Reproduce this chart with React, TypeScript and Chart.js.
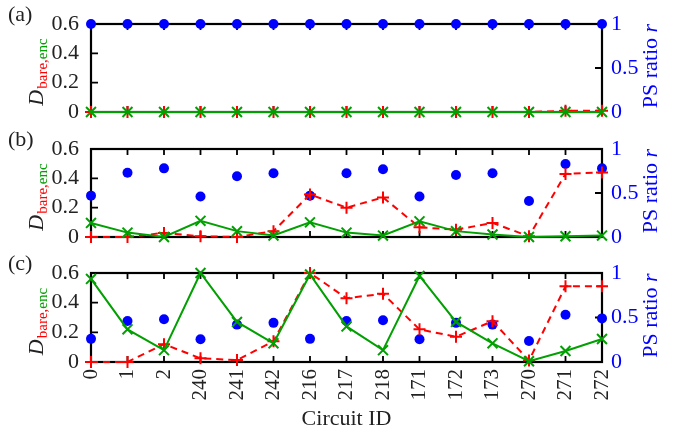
import React, { useEffect, useRef } from "react";
import { Chart, registerables } from "chart.js";
Chart.register(...registerables);

const circuitIds = ["0", "1", "2", "240", "241", "242", "216", "217", "218", "171", "172", "173", "270", "271", "272"];

const bareA = [0, 0, 0, 0, 0, 0, 0, 0, 0, 0, 0, 0, 0, 0.008, 0.008];
const encA = [0, 0, 0, 0, 0, 0, 0, 0, 0, 0, 0, 0, 0, 0, 0];
const ratioA = [1, 1, 1, 1, 1, 1, 1, 1, 1, 1, 1, 1, 1, 1, 1];

const bareB = [0, 0, 0.028, 0.005, 0, 0.04, 0.29, 0.2, 0.27, 0.066, 0.05, 0.096, 0.005, 0.43, 0.44];
const encB = [0.096, 0.03, 0.0, 0.11, 0.04, 0.01, 0.1, 0.03, 0.01, 0.107, 0.04, 0.017, 0.0, 0.005, 0.01];
const ratioB = [0.47, 0.73, 0.78, 0.46, 0.69, 0.725, 0.47, 0.725, 0.77, 0.46, 0.705, 0.725, 0.41, 0.83, 0.78];

const bareC = [0, 0, 0.12, 0.025, 0.013, 0.14, 0.6, 0.43, 0.46, 0.22, 0.17, 0.275, 0.01, 0.51, 0.51];
const encC = [0.56, 0.22, 0.08, 0.6, 0.27, 0.126, 0.59, 0.24, 0.08, 0.58, 0.27, 0.126, 0.005, 0.074, 0.155];
const ratioC = [0.26, 0.46, 0.48, 0.255, 0.42, 0.44, 0.26, 0.46, 0.47, 0.255, 0.44, 0.42, 0.236, 0.53, 0.49];

const leftTickMarks = [0.2, 0.4];
const rightTickMarks = [0.5];

const FONT = "'Liberation Serif', 'DejaVu Serif', serif";
const RED = "#ff0000";
const GREEN = "#00a000";
const BLUE = "#0000ff";
const INK = "#222222";

type PanelDef = {
  label: string;
  bare: number[];
  enc: number[];
  ratio: number[];
  top: number;
  height: number;
  padTop: number;
  xHeight: number;
  showX: boolean;
};

const panels: PanelDef[] = [
  { label: "(a)", bare: bareA, enc: encA, ratio: ratioA, top: 0, height: 130, padTop: 24, xHeight: 18, showX: false },
  { label: "(b)", bare: bareB, enc: encB, ratio: ratioB, top: 124, height: 131, padTop: 25, xHeight: 18, showX: false },
  { label: "(c)", bare: bareC, enc: encC, ratio: ratioC, top: 248, height: 185, padTop: 25, xHeight: 71, showX: true },
];

const fmt = (v: any) => `${+Number(v).toFixed(2)}`;

function makePlugin(p: PanelDef) {
  return {
    id: "frameAndText",
    beforeDatasetsDraw(chart: any) {
      const { ctx, chartArea: a, scales } = chart;
      ctx.save();
      ctx.strokeStyle = "#000";
      ctx.lineWidth = 2.2;
      ctx.strokeRect(a.left, a.top, a.right - a.left, a.bottom - a.top);
      ctx.lineWidth = 1.8;
      ctx.beginPath();
      for (let i = 1; i < circuitIds.length - 1; i++) {
        const px = scales.x.getPixelForValue(i);
        ctx.moveTo(px, a.top);
        ctx.lineTo(px, a.top + 6);
        ctx.moveTo(px, a.bottom);
        ctx.lineTo(px, a.bottom - 6);
      }
      for (const v of leftTickMarks) {
        const py = scales.y.getPixelForValue(v);
        ctx.moveTo(a.left, py);
        ctx.lineTo(a.left + 7, py);
      }
      for (const v of rightTickMarks) {
        const py = scales.y1.getPixelForValue(v);
        ctx.moveTo(a.right, py);
        ctx.lineTo(a.right - 7, py);
      }
      ctx.stroke();
      ctx.restore();
    },
    afterDraw(chart: any) {
      const { ctx, chartArea: a } = chart;
      ctx.save();
      ctx.textAlign = "left";
      ctx.textBaseline = "alphabetic";
      // panel label
      ctx.font = `22px ${FONT}`;
      ctx.fillStyle = INK;
      ctx.fillText(p.label, 8, a.top - 3);

      const cy = (a.top + a.bottom) / 2;
      // left title
      ctx.save();
      ctx.translate(43, cy + 4);
      ctx.rotate(-Math.PI / 2);
      ctx.font = `italic 22px ${FONT}`;
      const wD = ctx.measureText("D").width;
      ctx.font = `15px ${FONT}`;
      const w1 = ctx.measureText("bare,").width;
      const w2 = ctx.measureText("enc").width;
      let x0 = -(wD + 1 + w1 + w2) / 2;
      ctx.font = `italic 22px ${FONT}`;
      ctx.fillStyle = INK;
      ctx.fillText("D", x0, 0);
      x0 += wD + 1;
      ctx.font = `15px ${FONT}`;
      ctx.fillStyle = RED;
      ctx.fillText("bare,", x0, 4);
      x0 += w1;
      ctx.fillStyle = GREEN;
      ctx.fillText("enc", x0, 4);
      ctx.restore();

      // right title
      ctx.save();
      ctx.translate(657, cy - 2);
      ctx.rotate(-Math.PI / 2);
      ctx.font = `22px ${FONT}`;
      const wa = ctx.measureText("PS ratio ").width;
      ctx.font = `italic 22px ${FONT}`;
      const wr = ctx.measureText("r").width;
      let x1 = -(wa + wr) / 2;
      ctx.fillStyle = BLUE;
      ctx.font = `22px ${FONT}`;
      ctx.fillText("PS ratio ", x1, 0);
      x1 += wa;
      ctx.font = `italic 22px ${FONT}`;
      ctx.fillText("r", x1, 0);
      ctx.restore();

      if (p.showX) {
        ctx.font = `22px ${FONT}`;
        ctx.fillStyle = INK;
        ctx.textAlign = "center";
        ctx.fillText("Circuit ID", (a.left + a.right) / 2, a.bottom + 63);
      }
      ctx.restore();
    },
  };
}

function Panel({ p }: { p: PanelDef }) {
  const ref = useRef<HTMLCanvasElement>(null);
  useEffect(() => {
    const canvas = ref.current;
    if (!canvas) return;
    const chart = new Chart(canvas, {
      type: "line",
      data: {
        labels: circuitIds,
        datasets: [
          {
            label: "bare",
            data: p.bare,
            yAxisID: "y",
            borderColor: RED,
            borderWidth: 2,
            borderDash: [7, 5],
            pointStyle: "cross",
            pointRadius: 6,
            pointBorderWidth: 2,
            pointBorderColor: RED,
            pointBackgroundColor: RED,
            tension: 0,
            fill: false,
            clip: false,
            order: 1,
          },
          {
            label: "enc",
            data: p.enc,
            yAxisID: "y",
            borderColor: GREEN,
            borderWidth: 2,
            pointStyle: "crossRot",
            pointRadius: 7,
            pointBorderWidth: 2,
            pointBorderColor: GREEN,
            pointBackgroundColor: GREEN,
            tension: 0,
            fill: false,
            clip: false,
            order: 0,
          },
          {
            label: "ratio",
            data: p.ratio,
            yAxisID: "y1",
            showLine: false,
            pointStyle: "circle",
            pointRadius: 5,
            pointBorderWidth: 0,
            pointBackgroundColor: BLUE,
            pointBorderColor: BLUE,
            clip: false,
            order: 2,
          },
        ],
      },
      options: {
        animation: false,
        responsive: false,
        devicePixelRatio: 1,
        events: [],
        layout: { padding: { left: 0, right: 0, top: p.padTop, bottom: 0 } },
        plugins: { legend: { display: false }, tooltip: { enabled: false } },
        scales: {
          x: {
            type: "category",
            display: true,
            offset: false,
            grid: { display: false, drawTicks: false },
            border: { display: false },
            ticks: {
              display: p.showX,
              autoSkip: false,
              maxRotation: 90,
              minRotation: 90,
              padding: 7,
              color: INK,
              font: { family: FONT, size: 21 },
            },
            afterFit: (s: any) => {
              s.height = p.xHeight;
              s.paddingLeft = 0;
              s.paddingRight = 0;
            },
          },
          y: {
            position: "left",
            min: 0,
            max: 0.6,
            grid: { display: false, drawTicks: false },
            border: { display: false },
            ticks: {
              stepSize: 0.2,
              autoSkip: false,
              padding: 12,
              color: INK,
              font: { family: FONT, size: 22 },
              callback: fmt,
            },
            afterFit: (s: any) => {
              s.width = 91;
              s.paddingTop = 0;
              s.paddingBottom = 0;
            },
          },
          y1: {
            position: "right",
            min: 0,
            max: 1,
            grid: { display: false, drawTicks: false },
            border: { display: false },
            ticks: {
              stepSize: 0.5,
              autoSkip: false,
              padding: 9,
              color: BLUE,
              font: { family: FONT, size: 22 },
              callback: fmt,
            },
            afterFit: (s: any) => {
              s.width = 72;
              s.paddingTop = 0;
              s.paddingBottom = 0;
            },
          },
        },
      },
      plugins: [makePlugin(p)],
    } as any);
    return () => chart.destroy();
  }, [p]);
  return (
    <canvas
      ref={ref}
      width={674}
      height={p.height}
      style={{ position: "absolute", left: 0, top: p.top, width: 674, height: p.height, display: "block" }}
    />
  );
}

export default function App() {
  return (
    <div style={{ position: "absolute", left: 0, top: 0, width: 674, height: 433, background: "#fff" }}>
      {panels.map((p) => (
        <Panel key={p.label} p={p} />
      ))}
    </div>
  );
}
